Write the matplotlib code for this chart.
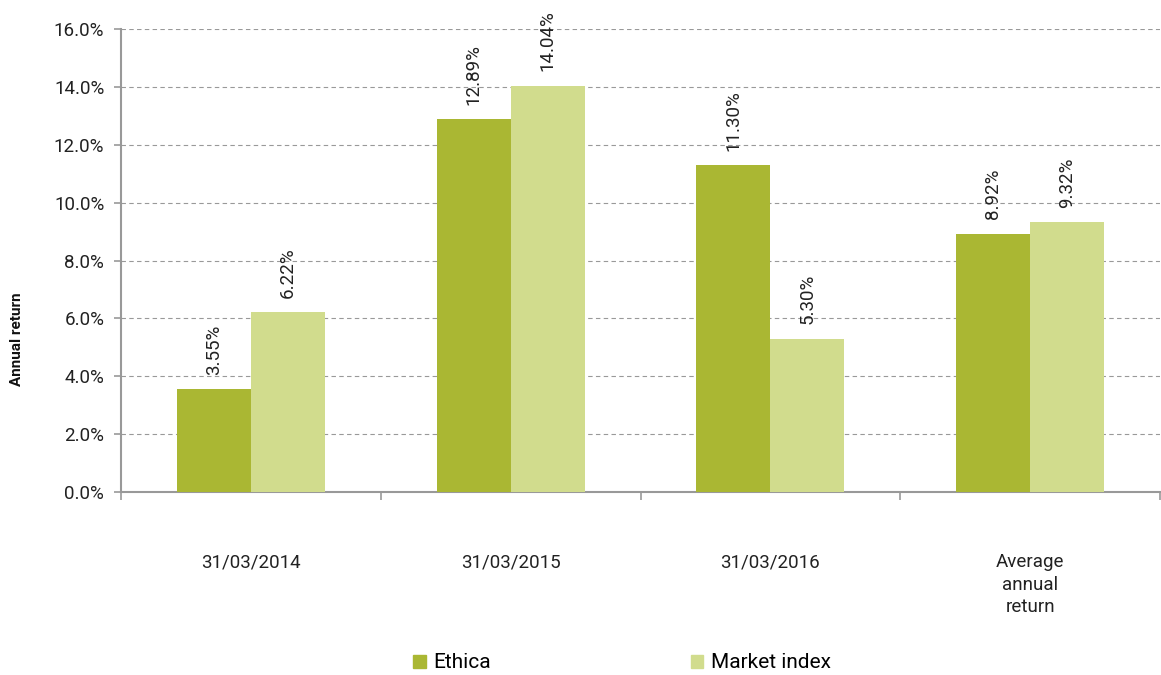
import matplotlib
matplotlib.use("Agg")
import matplotlib.pyplot as plt
from matplotlib.patches import Patch
import numpy as np

plt.rcParams['font.family'] = ['Roboto', 'DejaVu Sans']

categories = ['31/03/2014', '31/03/2015', '31/03/2016', 'Average\nannual\nreturn']
ethica = [3.55, 12.89, 11.30, 8.92]
market = [6.22, 14.04, 5.30, 9.32]
series_names = ['Ethica', 'Market index']
colors = ['#aab733', '#d1dc8d']

fig = plt.figure(figsize=(11.61, 6.75), dpi=100)
ax = fig.add_axes([121 / 1161, 1 - 492 / 675, 1039 / 1161, 463 / 675])

x = np.arange(len(categories))
w = 0.285
b1 = ax.bar(x - w / 2, ethica, w, color=colors[0], zorder=3)
b2 = ax.bar(x + w / 2, market, w, color=colors[1], zorder=3)

for bars, vals in [(b1, ethica), (b2, market)]:
    for rect, v in zip(bars, vals):
        ax.text(rect.get_x() + rect.get_width() / 2, v + 0.5, f'{v:.2f}%',
                rotation=90, ha='center', va='bottom', fontsize=13.5, color='#222222')

ax.set_xlim(-0.5, len(categories) - 0.5)
ax.set_ylim(0, 16)
ax.set_yticks(np.arange(0, 16.1, 2))
ax.set_yticklabels([f'{t:.1f}%' for t in np.arange(0, 16.1, 2)], fontsize=13.5, color='#222222')
ax.yaxis.grid(True, linestyle=(0, (4, 3)), color='#999999', linewidth=0.8, zorder=0)

ax.set_xticks(x)
ax.set_xticklabels(categories, fontsize=13.5, color='#222222', va='top', linespacing=1.32)
ax.tick_params(axis='x', which='major', length=0, pad=44)
ax.set_xticks(np.arange(-0.5, len(categories), 1), minor=True)
ax.tick_params(axis='x', which='minor', length=6, color='#999999', width=1.2, direction='out')
ax.tick_params(axis='y', length=5, color='#999999', width=1.2, direction='out', pad=7)

for s in ['top', 'right']:
    ax.spines[s].set_visible(False)
for s in ['left', 'bottom']:
    ax.spines[s].set_color('#999999')
    ax.spines[s].set_linewidth(1.5)

fig.text(17 / 1161, 1 - 339 / 675, 'Annual return', rotation=90, ha='center', va='center',
         fontsize=11, fontweight='bold', color='#111111')

handles = [Patch(color=c) for c in colors]
fig.legend(handles, series_names, loc='center', bbox_to_anchor=(622 / 1161, 1 - 663 / 675),
           ncol=2, frameon=False, fontsize=15, handlelength=0.6, handleheight=0.6,
           handletextpad=0.35, columnspacing=9.6)

fig.savefig('out.png', dpi=100)
